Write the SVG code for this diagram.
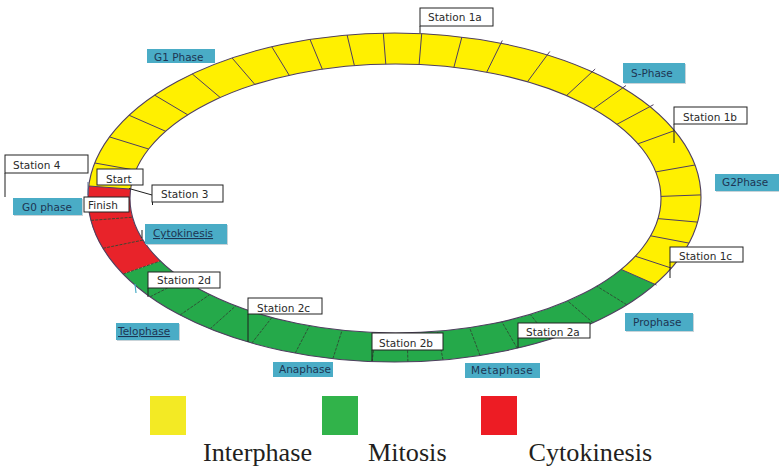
<svg xmlns="http://www.w3.org/2000/svg" width="779" height="468" viewBox="0 0 779 468">
  <style>
    .lbl { font-family: "DejaVu Sans", Verdana, sans-serif; font-size: 10.5px; }
    .phase rect { fill: #4aacc6; }
    .phase .shade { fill: #c9d3d8; }
    .phase text { fill: #1d3553; }
    .callout rect { fill: #ffffff; stroke: #222222; stroke-width: 1; }
    .callout text { fill: #2a2a2a; }
    .div { stroke: #4f3f5f; stroke-width: 1; fill: none; }
    .div-m { stroke: #2f4a33; stroke-width: 0.9; stroke-dasharray: 3 1.2; fill: none; }
    .edge { fill: none; stroke: #4f3f5f; stroke-width: 1.1; }
    .lead { stroke: #1e1e1e; stroke-width: 1; fill: none; }
    .legend-txt { font-family: "Liberation Serif", "Times New Roman", serif; font-size: 26.2px; fill: #231f20; }
  </style>

  <rect width="779" height="468" fill="#ffffff"/>

  <!-- cell cycle ring: coloured bands -->
  <g id="ring">
    <path id="band-interphase" fill="#fff000" d="M 88.75 186.0 A 306.5 164.5 0 1 1 654.99 284.2 L 621.15 269.4 A 265.5 134.5 0 1 0 130.65 189.1 Z"/>
    <path id="band-mitosis" fill="#25a94a" d="M 654.99 284.2 A 306.5 164.5 0 0 1 123.1 274.0 L 160.4 261.0 A 265.5 134.5 0 0 0 621.15 269.4 Z"/>
    <path id="band-cytokinesis" fill="#e8232a" d="M 123.1 274.0 A 306.5 164.5 0 0 1 88.75 186.0 L 130.65 189.1 A 265.5 134.5 0 0 0 160.4 261.0 Z"/>

    <!-- segment dividers -->
    <g id="dividers">
      <path class="div" d="M88.75 186.0 L130.65 189.1 M94.8 163.0 L135.9 170.3 M109.5 136.9 L148.6 149.0 M129.1 115.25 L165.6 131.25 M154.6 95.1 L187.7 114.8 M192.2 73.9 L220.2 97.5 M232.1 58.0 L254.8 84.4 M271.8 46.8 L289.2 75.25 M310.0 39.4 L322.3 69.2 M347.1 35.0 L354.4 65.6 M383.3 33.1 L385.8 64.1 M421.7 33.65 L419.1 64.5 M461.9 37.0 L453.9 67.3 M502.3 40.5 L486.7 72.2 M549.8 51.5 L527.45 81.8 M595.2 69.0 L566.5 95.6 M626.0 85.5 L593.4 108.85 M653.5 104.7 L616.9 124.3 M674.5 130.6 L638.05 143.8 M694.95 165.0 L655.8 171.9 M700.96 194.9 L660.97 196.4 M697.55 222.1 L658.0 218.6 M688.98 243.1 L650.6 235.8 M671.4 268.1 L635.3 256.2 M656.5 285.0 L621.15 269.4"/>
      <path class="div-m" d="M626.9 304.8 L596.8 286.2 M593.15 322.8 L567.6 300.9 M550.1 339.2 L530.25 314.4 M517.2 348.2 L501.8 321.75 M480.0 355.5 L469.6 327.7 M443.0 359.9 L437.5 331.3 M407.9 361.8 L407.1 332.9 M372.05 361.6 L376.05 332.6 M332.9 358.6 L342.1 330.25 M295.2 353.1 L309.5 325.75 M251.8 343.1 L271.9 317.5 M210.0 328.9 L235.7 305.9 M180.05 315.0 L209.7 294.6 M150.1 296.8 L183.8 279.7 M123.1 274.0 L160.4 261.0 M103.0 248.3 L143.0 240.1 M91.0 220.4 L132.6 217.2"/>
    </g>

    <!-- ring outlines -->
    <ellipse class="edge" cx="394.5" cy="197.5" rx="306.5" ry="164.5"/>
    <ellipse class="edge" cx="395.5" cy="198.5" rx="265.5" ry="134.5"/>
  </g>

  <!-- leader lines from callouts to the ring -->
  <g id="connectors">
    <path class="lead" d="M420 26 L420 33"/>
    <path class="lead" d="M674 124 L674 143"/>
    <path class="lead" d="M670 262 L670 278"/>
    <path class="lead" d="M518 338 L518 348"/>
    <path class="lead" d="M372 350 L372 361"/>
    <path class="lead" d="M248 314 L248 342"/>
    <path class="lead" d="M148 288 L148 297"/>
    <path class="lead" d="M152 195 L129 188.5"/>
    <path class="lead" stroke-width="2" d="M152.5 185 L152.5 205"/>
    <path class="lead" d="M5 173 L5 197"/>
    <path class="lead" d="M142 230 L142 238"/>
    <path d="M88 182 L88 195" stroke="#5a6a90" stroke-width="1"/>
    <path d="M135 284 L136 293" stroke="#4aacc6" stroke-width="1.2"/>
  </g>

  <!-- phase labels -->
  <g id="g1-phase" class="phase lbl">
    <rect x="147" y="49" width="68" height="14"/>
    <text x="154" y="61">G1 Phase</text>
  </g>
  <g id="s-phase" class="phase lbl">
    <rect class="shade" x="624" y="64" width="62" height="20"/>
    <rect x="623" y="63" width="62" height="20"/>
    <text x="631" y="77">S-Phase</text>
  </g>
  <g id="g2-phase" class="phase lbl">
    <rect class="shade" x="716" y="175" width="63" height="17"/>
    <rect x="715" y="174" width="64" height="17"/>
    <text x="722" y="186">G2Phase</text>
  </g>
  <g id="prophase" class="phase lbl">
    <rect class="shade" x="626" y="314" width="68" height="18"/>
    <rect x="625" y="313" width="68" height="18"/>
    <text x="633" y="326">Prophase</text>
  </g>
  <g id="metaphase" class="phase lbl">
    <rect x="465" y="363" width="75" height="15"/>
    <text x="471" y="373.5" letter-spacing="0.5">Metaphase</text>
  </g>
  <g id="anaphase" class="phase lbl">
    <rect x="273" y="362" width="60" height="15"/>
    <text x="279" y="373">Anaphase</text>
  </g>
  <g id="telophase" class="phase lbl">
    <rect class="shade" x="117" y="324" width="63" height="17"/>
    <rect x="116" y="323" width="63" height="17"/>
    <text x="118" y="335" text-decoration="underline">Telophase</text>
  </g>
  <g id="cytokinesis" class="phase lbl">
    <rect class="shade" x="146" y="225" width="82" height="20"/>
    <rect x="145" y="224" width="82" height="20"/>
    <text x="153" y="237" text-decoration="underline">Cytokinesis</text>
  </g>
  <g id="g0-phase" class="phase lbl">
    <rect class="shade" x="14" y="199" width="69" height="17"/>
    <rect x="13" y="198" width="69" height="17"/>
    <text x="22" y="211">G0 phase</text>
  </g>

  <!-- station callouts -->
  <g id="station-1a" class="callout lbl">
    <rect x="420" y="8" width="73" height="18"/>
    <text x="428" y="21">Station 1a</text>
  </g>
  <g id="station-1b" class="callout lbl">
    <rect x="674" y="107" width="73" height="17"/>
    <text x="683" y="121">Station 1b</text>
  </g>
  <g id="station-1c" class="callout lbl">
    <rect x="670" y="247" width="73" height="15"/>
    <text x="679" y="259.5">Station 1c</text>
  </g>
  <g id="station-2a" class="callout lbl">
    <rect x="518" y="323" width="72" height="15"/>
    <text x="526" y="336">Station 2a</text>
  </g>
  <g id="station-2b" class="callout lbl">
    <rect x="372" y="333" width="71" height="17"/>
    <text x="379" y="347">Station 2b</text>
  </g>
  <g id="station-2c" class="callout lbl">
    <rect x="248" y="298" width="74" height="16"/>
    <text x="257" y="311.5">Station 2c</text>
  </g>
  <g id="station-2d" class="callout lbl">
    <rect x="148" y="272" width="72" height="16"/>
    <text x="157" y="284">Station 2d</text>
  </g>
  <g id="station-3" class="callout lbl">
    <rect x="152" y="185" width="71" height="17"/>
    <text x="161" y="198">Station 3</text>
  </g>
  <g id="start" class="callout lbl">
    <rect x="97" y="169" width="46" height="16"/>
    <text x="106" y="182.5">Start</text>
  </g>
  <g id="finish" class="callout lbl">
    <rect x="84" y="197" width="45" height="15"/>
    <text x="88" y="209">Finish</text>
  </g>
  <g id="station-4" class="callout lbl">
    <rect x="5" y="155" width="83" height="18"/>
    <text x="13" y="168.5">Station 4</text>
  </g>

  <!-- legend -->
  <g id="legend">
    <rect x="150" y="396" width="36" height="39" fill="#f3ea24"/>
    <rect x="322" y="396" width="36" height="39" fill="#31b34a"/>
    <rect x="481" y="396" width="36" height="39" fill="#ed1c24"/>
    <text class="legend-txt" x="203" y="461.3">Interphase</text>
    <text class="legend-txt" x="368" y="461.3">Mitosis</text>
    <text class="legend-txt" x="528.5" y="461.3">Cytokinesis</text>
  </g>
</svg>
